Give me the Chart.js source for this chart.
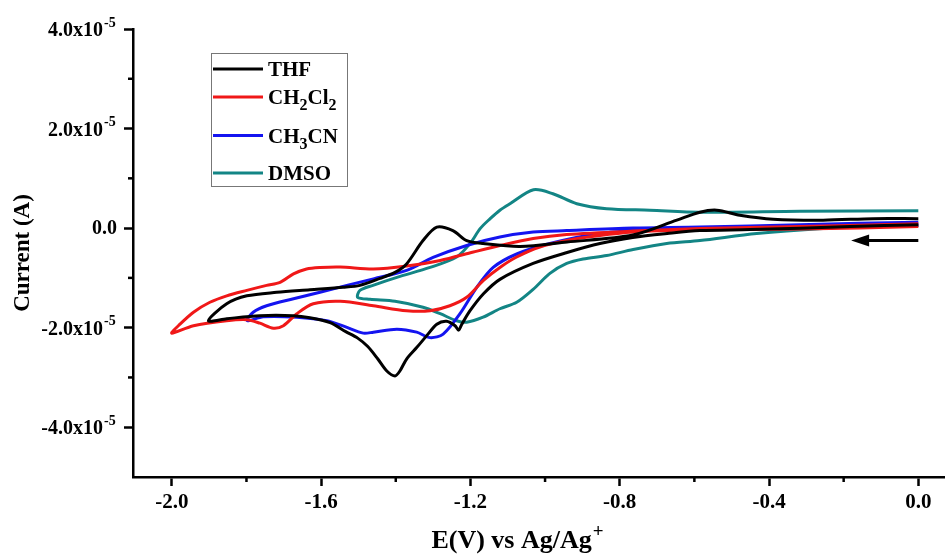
<!DOCTYPE html>
<html>
<head>
<meta charset="utf-8">
<title>Cyclic voltammograms in different solvents</title>
<script src="https://cdn.jsdelivr.net/npm/chart.js@4.4.1/dist/chart.umd.min.js"></script>
<style>
  html, body { margin: 0; padding: 0; background: #fff; }
  #wrap { width: 945px; height: 554px; }
</style>
</head>
<body>
<div id="wrap"><canvas id="cv" width="945" height="554"></canvas></div>
<script>
// potentials in V vs Ag/Ag+, currents in units of 1e-5 A
// each loop starts at 0.0 V, runs down to the switching potential and comes back
const thfV = [0.0, -0.183, -0.451, -0.585, -0.673, -0.765, -0.853, -0.941, -1.032, -1.121, -1.165, -1.201, -1.223, -1.232, -1.241, -1.264, -1.290, -1.317, -1.344, -1.371, -1.389, -1.402, -1.424, -1.448, -1.475, -1.502, -1.534, -1.576, -1.630, -1.675, -1.764, -1.853, -1.902,
  -1.853, -1.799, -1.719, -1.630, -1.541, -1.496, -1.442, -1.402, -1.371, -1.327, -1.290, -1.247, -1.210, -1.166, -1.067, -0.941, -0.765, -0.647, -0.585, -0.540, -0.478, -0.389, -0.255, -0.121, 0.0];
const thfI = [0.07, 0.03, -0.03, -0.05, -0.11, -0.19, -0.31, -0.49, -0.71, -1.03, -1.32, -1.66, -1.93, -2.05, -1.96, -1.87, -1.93, -2.16, -2.40, -2.63, -2.87, -2.97, -2.87, -2.63, -2.38, -2.21, -2.08, -1.90, -1.80, -1.76, -1.76, -1.82, -1.86,
  -1.52, -1.36, -1.29, -1.24, -1.19, -1.15, -1.01, -0.89, -0.72, -0.25, 0.02, -0.05, -0.25, -0.31, -0.37, -0.28, -0.14, 0.16, 0.32, 0.36, 0.26, 0.18, 0.16, 0.19, 0.19];

const dcmV = [0.0, -0.317, -0.585, -0.674, -0.764, -0.853, -0.942, -1.014, -1.076, -1.121, -1.165, -1.210, -1.255, -1.308, -1.371, -1.460, -1.549, -1.621, -1.665, -1.701, -1.728, -1.764, -1.799, -1.853, -1.942, -2.000,
  -1.978, -1.942, -1.898, -1.853, -1.799, -1.746, -1.710, -1.674, -1.639, -1.603, -1.549, -1.460, -1.371, -1.281, -1.192, -1.121, -1.032, -0.942, -0.764, -0.585, -0.317, 0.0];
const dcmI = [0.03, -0.02, -0.03, -0.05, -0.08, -0.15, -0.25, -0.38, -0.58, -0.79, -1.05, -1.39, -1.56, -1.66, -1.66, -1.56, -1.47, -1.52, -1.72, -1.96, -2.01, -1.91, -1.84, -1.86, -1.96, -2.11,
  -1.93, -1.69, -1.49, -1.36, -1.25, -1.15, -1.09, -0.92, -0.82, -0.79, -0.78, -0.82, -0.76, -0.65, -0.48, -0.35, -0.21, -0.13, -0.06, -0.01, 0.03, 0.09];

const mecnV = [0.0, -0.317, -0.585, -0.674, -0.853, -0.987, -1.076, -1.139, -1.183, -1.228, -1.273, -1.308, -1.344, -1.397, -1.460, -1.487, -1.536, -1.585, -1.665, -1.755, -1.798,
  -1.782, -1.746, -1.674, -1.603, -1.531, -1.460, -1.371, -1.300, -1.210, -1.121, -1.032, -0.942, -0.764, -0.585, -0.317, 0.0];
const mecnI = [0.05, 0.02, 0.00, -0.01, -0.11, -0.31, -0.52, -0.79, -1.19, -1.72, -2.13, -2.20, -2.09, -2.03, -2.09, -2.11, -1.98, -1.86, -1.79, -1.78, -1.86,
  -1.69, -1.56, -1.42, -1.29, -1.15, -1.02, -0.85, -0.59, -0.35, -0.18, -0.08, -0.05, 0.00, 0.02, 0.07, 0.12];

const dmsoV = [0.0, -0.076, -0.255, -0.433, -0.585, -0.674, -0.764, -0.835, -0.898, -0.942, -0.987, -1.032, -1.076, -1.121, -1.166, -1.210, -1.237, -1.281, -1.327, -1.402, -1.469, -1.502,
  -1.496, -1.461, -1.397, -1.308, -1.237, -1.201, -1.174, -1.147, -1.121, -1.094, -1.031, -0.979, -0.915, -0.835, -0.719, -0.585, -0.317, 0.0];
const dmsoI = [0.05, 0.05, -0.01, -0.11, -0.25, -0.31, -0.43, -0.55, -0.62, -0.71, -0.91, -1.23, -1.49, -1.62, -1.79, -1.89, -1.86, -1.72, -1.59, -1.47, -1.43, -1.39,
  -1.25, -1.15, -0.99, -0.79, -0.58, -0.31, -0.01, 0.19, 0.36, 0.49, 0.77, 0.69, 0.49, 0.39, 0.36, 0.32, 0.34, 0.35];

const seriesNames = ['THF', 'CH2Cl2', 'CH3CN', 'DMSO'];
// legend text pieces, second item flags a subscript
const legendParts = [
  [['THF', 0]],
  [['CH', 0], ['2', 1], ['Cl', 0], ['2', 1]],
  [['CH', 0], ['3', 1], ['CN', 0]],
  [['DMSO', 0]]
];
const seriesColors = ['#000000', '#f01818', '#1414f0', '#138585'];

const xMajorTicks = [-2.0, -1.6, -1.2, -0.8, -0.4, 0.0];
const xMinorTicks = [-1.8, -1.4, -1.0, -0.6, -0.2];
const yMajorTicks = [-4, -2, 0, 2, 4];
const yMinorTicks = [-3, -1, 1, 3];
// mantissa and exponent of the y tick labels
const yTickBase = ['-4.0x10', '-2.0x10', '0.0', '2.0x10', '4.0x10'];
const yTickExp = ['-5', '-5', '', '-5', '-5'];
const xTitle = ['E(V) vs Ag/Ag', '+'];

// scan direction arrow (V, 1e-5 A)
const arrowFrom = [0.0, -0.25];
const arrowTo = [-0.18, -0.25];

const FONT = "'Liberation Serif', 'Times New Roman', serif";

const toPoints = (vs, is) => vs.map((v, k) => ({ x: v, y: is[k] }));
const allV = [thfV, dcmV, mecnV, dmsoV];
const allI = [thfI, dcmI, mecnI, dmsoI];

const datasets = seriesNames.map((name, k) => ({
  label: name,
  data: toPoints(allV[k], allI[k]),
  borderColor: seriesColors[k],
  backgroundColor: seriesColors[k],
  borderWidth: 3,
  pointRadius: 0,
  showLine: true,
  fill: false,
  tension: 0.3
}));

const extrasPlugin = {
  id: 'extras',
  afterDraw(chart) {
    const ctx = chart.ctx;
    const xs = chart.scales.x;
    const ys = chart.scales.y;
    const area = chart.chartArea;
    ctx.save();

    // minor ticks
    ctx.strokeStyle = '#000';
    ctx.lineWidth = 2.5;
    xMinorTicks.forEach(v => {
      const px = xs.getPixelForValue(v);
      ctx.beginPath();
      ctx.moveTo(px, area.bottom);
      ctx.lineTo(px, area.bottom + 5);
      ctx.stroke();
    });
    yMinorTicks.forEach(v => {
      const py = ys.getPixelForValue(v);
      ctx.beginPath();
      ctx.moveTo(area.left, py);
      ctx.lineTo(area.left - 5, py);
      ctx.stroke();
    });

    // y tick labels with superscript exponent
    ctx.fillStyle = '#000';
    yMajorTicks.forEach((v, k) => {
      const py = ys.getPixelForValue(v);
      ctx.textBaseline = 'middle';
      ctx.textAlign = 'right';
      ctx.font = 'bold 20px ' + FONT;
      if (!yTickExp[k]) {
        ctx.fillText(yTickBase[k], area.left - 16, py + 1);
        return;
      }
      ctx.fillText(yTickBase[k], area.left - 30, py + 2);
      ctx.textAlign = 'left';
      ctx.font = 'bold 14px ' + FONT;
      ctx.fillText(yTickExp[k], area.left - 29, py - 6);
    });

    // x axis title, placed a little left of the plot centre as in the source figure
    ctx.textBaseline = 'alphabetic';
    ctx.font = 'bold 26px ' + FONT;
    const w0 = ctx.measureText(xTitle[0]).width;
    ctx.font = 'bold 19px ' + FONT;
    const w1 = ctx.measureText(xTitle[1]).width;
    const tx0 = area.left + 384 - (w0 + w1) / 2;
    ctx.textAlign = 'left';
    ctx.font = 'bold 26px ' + FONT;
    ctx.fillText(xTitle[0], tx0, area.bottom + 71);
    ctx.font = 'bold 19px ' + FONT;
    ctx.fillText(xTitle[1], tx0 + w0 + 1, area.bottom + 60);

    // arrow
    const ax0 = xs.getPixelForValue(arrowFrom[0]);
    const ay = ys.getPixelForValue(arrowFrom[1]);
    const ax1 = xs.getPixelForValue(arrowTo[0]);
    ctx.strokeStyle = '#000';
    ctx.lineWidth = 3;
    ctx.beginPath();
    ctx.moveTo(ax0, ay);
    ctx.lineTo(ax1 + 10, ay);
    ctx.stroke();
    ctx.beginPath();
    ctx.moveTo(ax1, ay);
    ctx.lineTo(ax1 + 18, ay - 6);
    ctx.lineTo(ax1 + 18, ay + 6);
    ctx.closePath();
    ctx.fill();

    // legend box
    const bx = area.left + 78, by = area.top + 24, bw = 136, bh = 133;
    ctx.fillStyle = '#fff';
    ctx.fillRect(bx, by, bw, bh);
    ctx.strokeStyle = '#777';
    ctx.lineWidth = 1;
    ctx.strokeRect(bx + 0.5, by + 0.5, bw, bh);
    const rowY = [16, 44, 82.5, 120];
    legendParts.forEach((parts, k) => {
      const y = by + rowY[k];
      ctx.strokeStyle = seriesColors[k];
      ctx.lineWidth = 3;
      ctx.beginPath();
      ctx.moveTo(bx + 2, y);
      ctx.lineTo(bx + 52, y);
      ctx.stroke();
      let tx = bx + 57;
      ctx.fillStyle = '#000';
      parts.forEach(([txt, sub]) => {
        ctx.font = sub ? 'bold 16px ' + FONT : 'bold 21px ' + FONT;
        ctx.fillText(txt, tx, sub ? y + 13 : y + 7);
        tx += ctx.measureText(txt).width;
      });
    });
    ctx.restore();
  }
};

new Chart(document.getElementById('cv'), {
  type: 'scatter',
  data: { datasets },
  options: {
    responsive: false,
    animation: false,
    devicePixelRatio: 1,
    layout: { padding: { top: 29, right: 0, left: 0, bottom: 0 } },
    plugins: { legend: { display: false }, tooltip: { enabled: false } },
    scales: {
      x: {
        type: 'linear',
        min: -2.104,
        max: 0.0715,
        afterBuildTicks: s => { s.ticks = xMajorTicks.map(v => ({ value: v })); },
        afterFit: s => { s.height = 77; },
        border: { display: true, color: '#000', width: 2.5 },
        grid: { drawOnChartArea: false, drawTicks: true, tickLength: 9, tickWidth: 2.5, tickColor: '#000' },
        ticks: {
          color: '#000',
          padding: 4,
          font: { family: FONT, size: 21, weight: 'bold' },
          callback: v => v.toFixed(1)
        },
        title: { display: false }
      },
      y: {
        type: 'linear',
        min: -5,
        max: 4,
        afterBuildTicks: s => { s.ticks = yMajorTicks.map(v => ({ value: v })); },
        afterFit: s => { s.width = 133; },
        border: { display: true, color: '#000', width: 2.5 },
        grid: { drawOnChartArea: false, drawTicks: true, tickLength: 9, tickWidth: 2.5, tickColor: '#000' },
        ticks: { display: false },
        title: {
          display: true,
          text: 'Current (A)',
          color: '#000',
          font: { family: FONT, size: 23, weight: 'bold' },
          padding: { top: 9, bottom: 0 }
        }
      }
    }
  },
  plugins: [extrasPlugin]
});
</script>
</body>
</html>
